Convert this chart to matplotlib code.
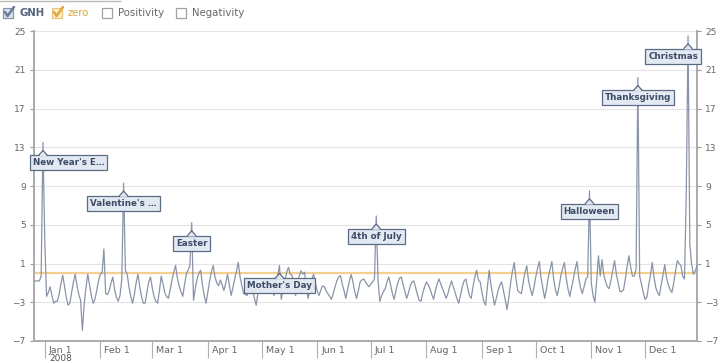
import numpy as np
import matplotlib
matplotlib.use("Agg")
import matplotlib.pyplot as plt
import matplotlib.dates as mdates
from matplotlib.patches import Rectangle, Polygon
from matplotlib.lines import Line2D
from matplotlib.transforms import IdentityTransform, ScaledTranslation

# daily GNH values, Dec 26 2007 .. Dec 30 2008
start = np.datetime64("2007-12-26")
gnh = [
    -0.8, -0.8, -0.8, -0.8, -0.3, 13.5,
    3.5, -2.4, -2.0, -1.4, -2.3, -3.1, -2.9,
    -2.9, -2.2, -1.1, -0.2, -1.3, -2.5, -3.3,
    -3.1, -2.0, -0.9, -0.1, -1.3, -2.2, -2.8,
    -5.9, -3.2, -1.5, -0.1, -1.2, -2.3, -3.1,
    -2.7, -1.8, -0.8, -0.1, 0.0, 2.5, -2.1,
    -2.2, -1.8, -1.0, -0.4, -1.7, -2.5, -2.9,
    -2.3, -0.6, 9.3, 0.3, -0.1, -1.4, -2.4,
    -3.1, -2.2, -1.0, -0.1, -1.4, -2.4, -3.1,
    -3.1, -2.0, -0.9, -0.4, -1.5, -2.4, -2.9,
    -3.1, -1.8, -0.3, -1.1, -2.0, -2.4, -2.6,
    -1.7, -0.7, 0.1, 0.8, -0.5, -1.3, -1.9,
    -2.4, -1.2, -0.1, 0.3, 0.8, 5.2, -2.8,
    -1.6, -0.6, 0.0, 0.3, -1.2, -2.3, -3.1,
    -2.0, -0.8, 0.1, 0.8, -0.4, -1.0, -1.3,
    -0.7, -1.2, -1.8, -1.0, -0.1, -1.2, -2.3,
    -1.5, -0.6, 0.2, 1.1, -0.4, -1.3, -2.1,
    -2.2, -2.3, -1.3, -0.6, -1.7, -2.6, -3.3,
    -2.0, -0.8, -1.4, -2.1, -1.5, -0.9, -0.6,
    -1.2, -1.9, -2.3, -1.2, -0.2, 0.8, -2.7,
    -1.5, -0.8, 0.1, 0.6, -0.1, -0.2, -1.5,
    -2.3, -1.3, -0.3, 0.25, -0.1, 0.1, -1.5,
    -2.6, -1.6, -0.7, -0.1, -1.0, -1.8, -2.3,
    -1.8, -1.3, -1.4, -1.8, -2.1, -2.4, -2.7,
    -2.1, -1.4, -0.8, -0.4, -0.25, -1.1, -1.8,
    -2.6, -1.7, -0.8, -0.15, -0.9, -1.9, -2.6,
    -1.8, -0.9, -0.7, -0.6, -0.9, -1.2, -1.4,
    -1.1, -0.9, -0.6, 5.9, -0.8, -2.9, -2.3,
    -1.9, -1.6, -0.9, -0.4, -1.2, -2.1, -2.7,
    -1.8, -1.0, -0.5, -0.4, -1.2, -1.9, -2.6,
    -2.0, -1.3, -0.9, -0.8, -1.5, -2.2, -2.8,
    -2.9, -2.0, -1.4, -0.9, -1.2, -1.6, -2.2,
    -2.7, -1.8, -1.1, -0.6, -1.1, -1.6, -2.1,
    -2.6, -2.1, -1.4, -0.8, -1.4, -2.0, -2.6,
    -3.1, -2.3, -1.4, -0.8, -0.6, -1.5, -2.3,
    -2.6, -1.4, -0.4, 0.3, -0.7, -0.9, -2.0,
    -2.9, -3.3, -1.5, 0.3, -1.2, -2.3, -3.3,
    -2.6, -1.8, -1.2, -0.9, -1.8, -2.8, -3.75,
    -2.5, -1.0, 0.2, 1.1, -0.6, -1.8, -2.0,
    -2.1, -1.0, 0.1, 0.76, -0.8, -1.6, -2.3,
    -1.5, -0.4, 0.5, 1.2, -0.5, -1.6, -2.6,
    -1.6, -0.4, 0.4, 1.2, -0.6, -1.7, -2.3,
    -1.4, -0.3, 0.5, 1.1, -0.5, -1.6, -2.4,
    -1.5, -0.6, 0.4, 1.2, -0.5, -1.5, -2.1,
    -1.4, -0.6, -0.4, 8.5, -1.0, -2.3, -3.0,
    -0.8, 1.8, -0.3, 1.4, -0.2, -0.9, -1.4,
    -1.6, -0.7, 0.3, 1.3, -0.1, -1.0, -1.9,
    -1.9, -1.7, -0.6, 0.7, 1.8, 0.6, -0.3,
    -0.3, 0.4, 20.2, -0.3, -1.1, -2.0, -2.7,
    -2.5, -1.3, -0.2, 1.1, -0.4, -1.5, -2.0,
    -2.3, -1.2, -0.2, 0.9, -0.5, -1.2, -1.7,
    -2.0, -1.0, 0.2, 1.3, 1.0, 0.8, -0.3,
    -0.6, 8.0, 24.5, 3.0, 0.9, -0.1, 0.2, 0.8,
]
dates = start + np.arange(len(gnh))

holiday_names = ["New Year's E\u2026", "Valentine's \u2026", "Easter", "Mother's Day",
                 "4th of July", "Halloween", "Thanksgiving", "Christmas"]
holiday_dates = np.array(["2007-12-31", "2008-02-14", "2008-03-23", "2008-05-11",
                          "2008-07-04", "2008-10-31", "2008-11-27", "2008-12-25"],
                         dtype="datetime64[D]")

month_dates = np.arange("2008-01", "2009-01", dtype="datetime64[M]").astype("datetime64[D]")
month_labels = ["Jan 1", "Feb 1", "Mar 1", "Apr 1", "May 1", "Jun 1",
                "Jul 1", "Aug 1", "Sep 1", "Oct 1", "Nov 1", "Dec 1"]
yticks = [-7, -3, 1, 5, 9, 13, 17, 21, 25]

legend_labels = ["GNH", "zero", "Positivity", "Negativity"]

W, H = 721, 363
fig = plt.figure(figsize=(W / 100, H / 100), dpi=100)
ax = fig.add_axes([34 / W, 22 / H, 663 / W, 310 / H])

ax.plot(dates, gnh, color="#8a94a8", lw=0.9, zorder=3)
ax.axhline(0, color="#f3d08f", lw=1.6, zorder=2)

ax.set_xlim(dates[0], dates[-1])
ax.set_ylim(-7, 25)
ax.set_yticks(yticks)
ax.grid(axis="y", color="#e4e4e4", lw=0.8)
ax.set_axisbelow(True)
ax.spines["top"].set_visible(False)
for s in ["left", "right", "bottom"]:
    ax.spines[s].set_color("#aaaaaa")
    ax.spines[s].set_linewidth(1.4)

ax.tick_params(axis="y", left=True, right=True, labelleft=True, labelright=True,
               length=3, width=0.8, color="#999999", labelcolor="#666666",
               labelsize=6.5, pad=3)
ax.set_xticks(month_dates)
ax.set_xticklabels(month_labels)
ax.tick_params(axis="x", length=12, width=0.8, color="#b0b0b0", labelcolor="#666666",
               labelsize=6.8, pad=-8.5)
for lbl in ax.get_xticklabels():
    lbl.set_horizontalalignment("left")
    lbl.set_transform(lbl.get_transform() + ScaledTranslation(4 / 100, 0, fig.dpi_scale_trans))

fig.text(49 / W, 1 - 354 / H, "2008", fontsize=6.5, color="#555555", ha="left", va="top")


def fx(x):
    return x / W


def fy(y):
    return 1 - y / H


# legend with checkboxes
fig.add_artist(Line2D([0, fx(120)], [fy(0.6), fy(0.6)], color="#bbbbbb", lw=1))
legend_x = [3, 52, 102, 176]
box_fc = ["#dde4ee", "#fbeed2", "white", "white"]
box_ec = ["#8795ae", "#e8c37a", "#a0a0a0", "#a0a0a0"]
check_c = ["#6b7b97", "#e2a844", None, None]
text_c = ["#55637d", "#e0a53c", "#666666", "#666666"]
text_w = ["bold", "normal", "normal", "normal"]
for x, lab, fc, ec, cc, tc, tw in zip(legend_x, legend_labels, box_fc, box_ec, check_c, text_c, text_w):
    fig.add_artist(Rectangle((fx(x), fy(18)), 10 / W, 10 / H, transform=fig.transFigure,
                             fc=fc, ec=ec, lw=0.9))
    if cc:
        fig.add_artist(Line2D([fx(x + 2), fx(x + 4.5), fx(x + 11)],
                              [fy(12), fy(16), fy(7)], color=cc, lw=1.8,
                              solid_capstyle="round", solid_joinstyle="round"))
    fig.text(fx(x + 16), fy(13.5), lab, fontsize=7.3, color=tc, fontweight=tw,
             ha="left", va="center")

# holiday callouts
box_face = "#e3e9f2"
box_edge = "#5b6b84"
fig.canvas.draw()
renderer = fig.canvas.get_renderer()
ax_bb = ax.get_window_extent(renderer)
for name, day in zip(holiday_names, holiday_dates):
    peak = gnh[int((day - start).astype(int))]
    px, py = ax.transData.transform((mdates.date2num(day), peak))
    tip = py - 8
    top = tip - 4.5
    t = fig.text(px, top - 7.8, name, transform=IdentityTransform(), ha="center",
                 va="center", fontsize=6.3, fontweight="bold", color="#3d4b65", zorder=10,
                 bbox=dict(boxstyle="square,pad=0.33", fc=box_face, ec=box_edge, lw=0.9))
    fig.canvas.draw()
    bb = t.get_bbox_patch().get_window_extent(renderer)
    dx = 0
    if bb.x0 < ax_bb.x0 - 4:
        dx = ax_bb.x0 - 4 - bb.x0
    elif bb.x1 > ax_bb.x1 + 4:
        dx = ax_bb.x1 + 4 - bb.x1
    t.set_position((px + dx, top - 7.8))
    fig.add_artist(Polygon([(px - 4, top - 1.2), (px, tip), (px + 4, top - 1.2)],
                           closed=True, transform=IdentityTransform(), fc=box_face,
                           ec="none", zorder=11))
    fig.add_artist(Line2D([px - 4, px, px + 4], [top, tip, top], transform=IdentityTransform(),
                          color=box_edge, lw=0.9, zorder=12))

fig.savefig("out.png", dpi=100)
